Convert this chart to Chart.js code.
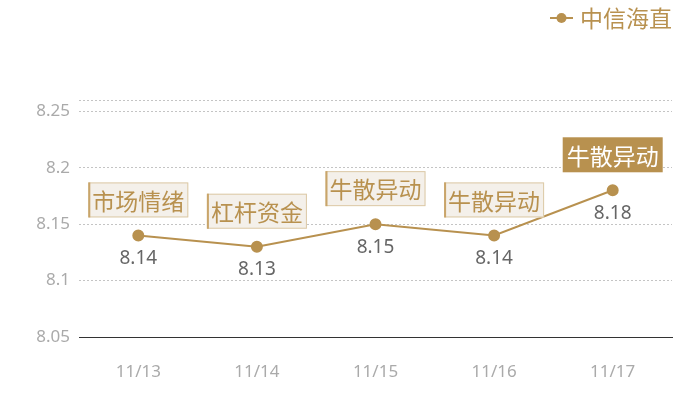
<!DOCTYPE html>
<html><head><meta charset="utf-8">
<script src="https://cdn.jsdelivr.net/npm/chart.js@4"></script>
<style>html,body{margin:0;padding:0;background:#fff}#w{width:700px;height:400px;position:relative}</style>
</head><body><div id="w"><canvas id="c"></canvas></div>
<script>
const categories = ['11/13','11/14','11/15','11/16','11/17'];
const values = [8.14, 8.13, 8.15, 8.14, 8.18];
const tags = ['市场情绪','杠杆资金','牛散异动','牛散异动','牛散异动'];
const highlighted = [false,false,false,false,true];
const yTicks = [8.05, 8.1, 8.15, 8.2, 8.25, 8.26];
const yLabels = ['8.05','8.1','8.15','8.2','8.25',''];
const seriesName = '中信海直';

const GOLD = '#b8914f';
const CJK = '"Noto Sans CJK SC", "Noto Sans", sans-serif';

const overlay = {
  id: 'overlay',
  afterDatasetsDraw(chart) {
    const ctx = chart.ctx;
    const meta = chart.getDatasetMeta(0);
    ctx.save();
    meta.data.forEach((p, i) => {
      ctx.font = '19px "Noto Sans", sans-serif';
      ctx.fillStyle = '#666';
      ctx.textAlign = 'center';
      ctx.textBaseline = 'middle';
      ctx.fillText(values[i].toFixed(2), p.x, p.y + 23);
      const w = 100, h = 35;
      const bx = p.x - w / 2, by = p.y - 18 - h;
      if (highlighted[i]) {
        ctx.fillStyle = GOLD;
        ctx.fillRect(bx, by, w, h);
        ctx.fillStyle = '#fff';
      } else {
        ctx.fillStyle = '#f4f0ea';
        ctx.fillRect(bx, by, w, h);
        ctx.strokeStyle = '#dcc9a6';
        ctx.lineWidth = 1;
        ctx.strokeRect(bx + 0.5, by + 0.5, w - 1, h - 1);
        ctx.fillStyle = '#c9a56a';
        ctx.fillRect(bx, by, 2, h);
        ctx.fillStyle = GOLD;
      }
      ctx.font = '23px ' + CJK;
      ctx.fillText(tags[i], p.x, by + h / 2 + 1);
    });
    ctx.strokeStyle = GOLD; ctx.lineWidth = 2;
    ctx.beginPath(); ctx.moveTo(550, 18); ctx.lineTo(573, 18); ctx.stroke();
    ctx.fillStyle = GOLD;
    ctx.beginPath(); ctx.arc(561.5, 18, 5, 0, Math.PI * 2); ctx.fill();
    ctx.font = '23px ' + CJK;
    ctx.textAlign = 'left'; ctx.textBaseline = 'middle';
    ctx.fillText(seriesName, 580, 18);
    ctx.restore();
  }
};

new Chart(document.getElementById('c'), {
  type: 'line',
  data: {
    labels: categories,
    datasets: [{
      label: seriesName,
      data: values,
      borderColor: GOLD,
      backgroundColor: GOLD,
      borderWidth: 2,
      pointRadius: 5,
      pointHoverRadius: 5,
      tension: 0,
      clip: false
    }]
  },
  options: {
    responsive: true,
    maintainAspectRatio: false,
    animation: false,
    layout: { padding: { top: 100, right: 28, left: 0, bottom: 0 } },
    plugins: { legend: { display: false }, tooltip: { enabled: false } },
    scales: {
      x: {
        offset: true,
        afterFit(scale) { scale.height = 63; },
        grid: { display: false, drawTicks: false },
        border: { display: true, color: '#333', width: 1 },
        ticks: { color: '#aaa', font: { size: 17, family: '"Noto Sans", sans-serif' }, padding: 25 }
      },
      y: {
        min: 8.05, max: 8.26,
        afterBuildTicks(scale) { scale.ticks = yTicks.map(v => ({ value: v })); },
        afterFit(scale) { scale.width = 79; },
        border: { display: false, dash: [2, 2] },
        grid: {
          color: ctx => (ctx.tick && ctx.tick.value === 8.05) ? 'rgba(0,0,0,0)' : '#c4c4c4',
          drawTicks: false
        },
        ticks: {
          color: '#aaa', padding: 9,
          font: { size: 17, family: '"Noto Sans", sans-serif' },
          callback: (v, i) => yLabels[i]
        }
      }
    }
  },
  plugins: [overlay]
});
</script></body></html>
